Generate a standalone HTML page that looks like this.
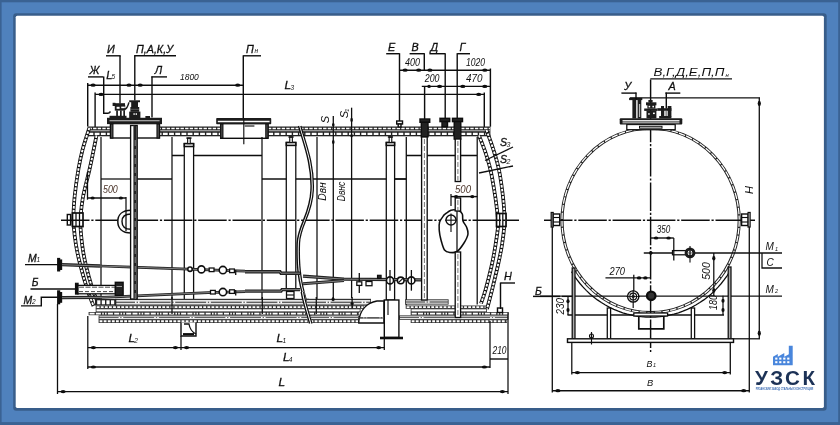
<!DOCTYPE html>
<html lang="ru">
<head>
<meta charset="utf-8">
<title>Резервуар горизонтальный двустенный - чертёж</title>
<style>
html,body{margin:0;padding:0;}
body{width:840px;height:425px;overflow:hidden;background:#4f81bd;position:relative;font-family:"Liberation Sans",sans-serif;}
svg{position:absolute;left:0;top:0;}
svg text{font-family:"Liberation Sans",sans-serif;}
</style>
</head>
<body>
<svg width="840" height="425" viewBox="0 0 840 425" stroke-linecap="butt">
<rect x="0" y="0" width="840" height="425" fill="#3a6293"/>
<rect x="1.6" y="2.3" width="836.6" height="419.8" fill="#4f81bd"/>
<rect x="13.2" y="13.2" width="813.5" height="397.5" rx="3" fill="#385d8a"/>
<rect x="15.7" y="15.7" width="808.2" height="392.2" rx="1.6" fill="#fff"/>
<defs><filter id="soft" x="0" y="0" width="840" height="425" filterUnits="userSpaceOnUse"><feGaussianBlur stdDeviation="0.38"/></filter></defs>
<g filter="url(#soft)">
<text x="107" y="52.6" font-size="10.8" text-anchor="start" fill="#111" font-weight="normal" style="font-style:italic;"  stroke="#111" stroke-width="0.3">И</text>
<line x1="106" y1="55.8" x2="120.7" y2="55.8" stroke="#111" stroke-width="1.42" />
<line x1="120" y1="55.8" x2="120" y2="103.5" stroke="#111" stroke-width="1.42" />
<text x="136" y="52.6" font-size="10.8" text-anchor="start" fill="#111" font-weight="normal" style="font-style:italic;"  textLength="37" lengthAdjust="spacingAndGlyphs" stroke="#111" stroke-width="0.3">П,А,К,У</text>
<line x1="134.3" y1="55.8" x2="176" y2="55.8" stroke="#111" stroke-width="1.42" />
<line x1="134.8" y1="55.3" x2="134.8" y2="100.5" stroke="#111" stroke-width="1.42" />
<text x="246" y="52.6" font-size="10.8" text-anchor="start" fill="#111" font-weight="normal" style="font-style:italic;"  stroke="#111" stroke-width="0.3">П</text>
<text x="254.6" y="52.8" font-size="6.5" text-anchor="start" fill="#111" font-weight="normal" style="font-style:italic;" >н</text>
<line x1="243.3" y1="55.8" x2="261" y2="55.8" stroke="#111" stroke-width="1.42" />
<line x1="243.3" y1="55.3" x2="243.3" y2="118" stroke="#111" stroke-width="1.42" />
<text x="89.5" y="74" font-size="10.8" text-anchor="start" fill="#111" font-weight="normal" style="font-style:italic;"  stroke="#111" stroke-width="0.3">Ж</text>
<line x1="88" y1="76.9" x2="103.3" y2="76.9" stroke="#111" stroke-width="1.42" />
<path d="M103.7 76.4 V113.3 H108.8" stroke="#111" stroke-width="1.42" fill="none" />
<text x="106.3" y="78.6" font-size="11.2" text-anchor="start" fill="#111" font-weight="normal" style="font-style:italic;"  stroke="#111" stroke-width="0.3">L</text>
<text x="111.6" y="79" font-size="6.5" text-anchor="start" fill="#111" font-weight="normal" style="font-style:italic;" >5</text>
<text x="154.7" y="74" font-size="10.8" text-anchor="start" fill="#111" font-weight="normal" style="font-style:italic;"  stroke="#111" stroke-width="0.3">Л</text>
<line x1="151.3" y1="76.9" x2="167" y2="76.9" stroke="#111" stroke-width="1.42" />
<line x1="152" y1="76.4" x2="152" y2="117.5" stroke="#111" stroke-width="1.42" />
<text x="180" y="80.3" font-size="9.3" text-anchor="start" fill="#111" font-weight="normal" style="font-style:italic;"  textLength="18.8" lengthAdjust="spacingAndGlyphs">1800</text>
<line x1="87.5" y1="85.2" x2="243.3" y2="85.2" stroke="#111" stroke-width="1.42" />
<line x1="87.7" y1="83" x2="87.7" y2="126.5" stroke="#111" stroke-width="1.42" />
<ellipse cx="93.1" cy="85.2" rx="2.6" ry="1.6" fill="#111"/>
<ellipse cx="129" cy="85.2" rx="2.6" ry="1.6" fill="#111"/>
<ellipse cx="140.2" cy="85.2" rx="2.6" ry="1.6" fill="#111"/>
<ellipse cx="237.7" cy="85.2" rx="2.6" ry="1.6" fill="#111"/>
<line x1="95.1" y1="94.4" x2="484.3" y2="94.4" stroke="#111" stroke-width="1.42" />
<line x1="95.1" y1="92.5" x2="95.1" y2="127" stroke="#111" stroke-width="1.42" />
<line x1="484.3" y1="92.5" x2="484.3" y2="131" stroke="#111" stroke-width="1.42" />
<ellipse cx="101.1" cy="94.4" rx="2.6" ry="1.6" fill="#111"/>
<ellipse cx="478.7" cy="94.4" rx="2.6" ry="1.6" fill="#111"/>
<text x="284.5" y="89.3" font-size="11.8" text-anchor="start" fill="#111" font-weight="normal" style="font-style:italic;"  stroke="#111" stroke-width="0.3">L</text>
<text x="290.5" y="90" font-size="6.5" text-anchor="start" fill="#111" font-weight="normal" style="font-style:italic;" >3</text>
<text x="388" y="50.6" font-size="10.8" text-anchor="start" fill="#111" font-weight="normal" style="font-style:italic;"  stroke="#111" stroke-width="0.3">Е</text>
<line x1="386.2" y1="53.7" x2="399.5" y2="53.7" stroke="#111" stroke-width="1.42" />
<line x1="399.5" y1="53.2" x2="399.5" y2="121" stroke="#111" stroke-width="1.42" />
<text x="411.5" y="50.6" font-size="10.8" text-anchor="start" fill="#111" font-weight="normal" style="font-style:italic;"  stroke="#111" stroke-width="0.3">В</text>
<line x1="409.6" y1="53.7" x2="424.3" y2="53.7" stroke="#111" stroke-width="1.42" />
<line x1="424.3" y1="53.2" x2="424.3" y2="70.2" stroke="#111" stroke-width="1.42" />
<line x1="424.6" y1="86.4" x2="424.6" y2="119" stroke="#111" stroke-width="1.42" />
<text x="430.6" y="50.6" font-size="10.8" text-anchor="start" fill="#111" font-weight="normal" style="font-style:italic;"  stroke="#111" stroke-width="0.3">Д</text>
<line x1="429.4" y1="53.7" x2="445.2" y2="53.7" stroke="#111" stroke-width="1.42" />
<line x1="445.2" y1="53.2" x2="445.2" y2="118.5" stroke="#111" stroke-width="1.42" />
<text x="459.5" y="50.6" font-size="10.8" text-anchor="start" fill="#111" font-weight="normal" style="font-style:italic;"  stroke="#111" stroke-width="0.3">Г</text>
<line x1="457.2" y1="53.7" x2="470" y2="53.7" stroke="#111" stroke-width="1.42" />
<line x1="457.2" y1="53.2" x2="457.2" y2="118.5" stroke="#111" stroke-width="1.42" />
<text x="405" y="66.4" font-size="10" text-anchor="start" fill="#111" font-weight="normal" style="font-style:italic;"  textLength="15" lengthAdjust="spacingAndGlyphs">400</text>
<text x="466" y="66.4" font-size="10" text-anchor="start" fill="#111" font-weight="normal" style="font-style:italic;"  textLength="19" lengthAdjust="spacingAndGlyphs">1020</text>
<text x="424.8" y="82.2" font-size="10" text-anchor="start" fill="#111" font-weight="normal" style="font-style:italic;"  textLength="14.7" lengthAdjust="spacingAndGlyphs">200</text>
<text x="466" y="82.2" font-size="10" text-anchor="start" fill="#111" font-weight="normal" style="font-style:italic;"  textLength="16.4" lengthAdjust="spacingAndGlyphs">470</text>
<line x1="399.5" y1="70.2" x2="490.4" y2="70.2" stroke="#111" stroke-width="1.42" />
<line x1="421.8" y1="86.4" x2="490.4" y2="86.4" stroke="#111" stroke-width="1.42" />
<line x1="490.4" y1="68.5" x2="490.4" y2="126.7" stroke="#111" stroke-width="1.42" />
<ellipse cx="405.1" cy="70.2" rx="2.6" ry="1.6" fill="#111"/>
<ellipse cx="418.7" cy="70.2" rx="2.6" ry="1.6" fill="#111"/>
<ellipse cx="429.9" cy="70.2" rx="2.6" ry="1.6" fill="#111"/>
<ellipse cx="484.8" cy="70.2" rx="2.6" ry="1.6" fill="#111"/>
<ellipse cx="429.05" cy="86.4" rx="1.75" ry="1.6" fill="#111"/>
<ellipse cx="439.6" cy="86.4" rx="2.6" ry="1.6" fill="#111"/>
<ellipse cx="462.8" cy="86.4" rx="2.6" ry="1.6" fill="#111"/>
<ellipse cx="484.8" cy="86.4" rx="2.6" ry="1.6" fill="#111"/>
<rect x="87.7" y="126.5" width="402.7" height="9.8" fill="#222"/>
<line x1="88.5" y1="128.6" x2="489.9" y2="128.6" stroke="#fff" stroke-width="1.5" stroke-dasharray="3.4 1.2"/>
<line x1="88.5" y1="130.75" x2="489.9" y2="130.75" stroke="#d8d8d8" stroke-width="0.9" />
<line x1="88.5" y1="133.9" x2="489.9" y2="133.9" stroke="#fff" stroke-width="2.3" stroke-dasharray="4.8 1.4"/>
<path d="M89.3 128 C88.17 131.67 84.33 143 82.5 150 C80.67 157 79.58 162.5 78.3 170 C77.02 177.5 75.62 187.5 74.8 195 C73.98 202.5 73.62 210.17 73.4 215 C73.18 219.83 73.07 219 73.5 224 C73.93 229 74.87 238.17 76 245 C77.13 251.83 78.38 257.5 80.3 265 C82.22 272.5 85.3 283.17 87.5 290 C89.7 296.83 92.5 303.33 93.5 306" stroke="#111" stroke-width="3.7" fill="none" />
<path d="M89.3 128 C88.17 131.67 84.33 143 82.5 150 C80.67 157 79.58 162.5 78.3 170 C77.02 177.5 75.62 187.5 74.8 195 C73.98 202.5 73.62 210.17 73.4 215 C73.18 219.83 73.07 219 73.5 224 C73.93 229 74.87 238.17 76 245 C77.13 251.83 78.38 257.5 80.3 265 C82.22 272.5 85.3 283.17 87.5 290 C89.7 296.83 92.5 303.33 93.5 306" stroke="#fff" stroke-width="1.9" fill="none" stroke-dasharray="2.5 1.3"/>
<path d="M96.5 135.5 C95.95 138.25 94.38 146.25 93.2 152 C92.02 157.75 91.07 162.67 89.4 170 C87.73 177.33 84.67 188.33 83.2 196 C81.73 203.67 81.08 211.33 80.6 216 C80.12 220.67 80.03 219.17 80.3 224 C80.57 228.83 81.28 238.17 82.2 245 C83.12 251.83 84.08 257.67 85.8 265 C87.52 272.33 90.47 282.67 92.5 289 C94.53 295.33 97.08 300.67 98 303" stroke="#111" stroke-width="3.7" fill="none" />
<path d="M96.5 135.5 C95.95 138.25 94.38 146.25 93.2 152 C92.02 157.75 91.07 162.67 89.4 170 C87.73 177.33 84.67 188.33 83.2 196 C81.73 203.67 81.08 211.33 80.6 216 C80.12 220.67 80.03 219.17 80.3 224 C80.57 228.83 81.28 238.17 82.2 245 C83.12 251.83 84.08 257.67 85.8 265 C87.52 272.33 90.47 282.67 92.5 289 C94.53 295.33 97.08 300.67 98 303" stroke="#fff" stroke-width="1.9" fill="none" stroke-dasharray="2.5 1.3"/>
<path d="M486.5 130 C487.67 133.33 491.42 143.33 493.5 150 C495.58 156.67 497.45 162.5 499 170 C500.55 177.5 501.88 187.5 502.8 195 C503.72 202.5 504.22 210.17 504.5 215 C504.78 219.83 504.92 219 504.5 224 C504.08 229 503.08 238.17 502 245 C500.92 251.83 499.67 257.5 498 265 C496.33 272.5 493.83 282.67 492 290 C490.17 297.33 487.83 305.83 487 309" stroke="#111" stroke-width="3.7" fill="none" />
<path d="M486.5 130 C487.67 133.33 491.42 143.33 493.5 150 C495.58 156.67 497.45 162.5 499 170 C500.55 177.5 501.88 187.5 502.8 195 C503.72 202.5 504.22 210.17 504.5 215 C504.78 219.83 504.92 219 504.5 224 C504.08 229 503.08 238.17 502 245 C500.92 251.83 499.67 257.5 498 265 C496.33 272.5 493.83 282.67 492 290 C490.17 297.33 487.83 305.83 487 309" stroke="#fff" stroke-width="1.9" fill="none" stroke-dasharray="2.5 1.3"/>
<path d="M479 135.5 C480.05 138.25 483.38 146.25 485.3 152 C487.22 157.75 488.88 162.83 490.5 170 C492.12 177.17 493.82 187.5 495 195 C496.18 202.5 497.05 210.17 497.6 215 C498.15 219.83 498.65 219 498.3 224 C497.95 229 496.58 238.17 495.5 245 C494.42 251.83 493.47 257.5 491.8 265 C490.13 272.5 487.3 283.58 485.5 290 C483.7 296.42 481.75 301.25 481 303.5" stroke="#111" stroke-width="3.7" fill="none" />
<path d="M479 135.5 C480.05 138.25 483.38 146.25 485.3 152 C487.22 157.75 488.88 162.83 490.5 170 C492.12 177.17 493.82 187.5 495 195 C496.18 202.5 497.05 210.17 497.6 215 C498.15 219.83 498.65 219 498.3 224 C497.95 229 496.58 238.17 495.5 245 C494.42 251.83 493.47 257.5 491.8 265 C490.13 272.5 487.3 283.58 485.5 290 C483.7 296.42 481.75 301.25 481 303.5" stroke="#fff" stroke-width="1.9" fill="none" stroke-dasharray="2.5 1.3"/>
<rect x="67.3" y="214.5" width="3.3" height="10.5" stroke="#111" stroke-width="1.42" fill="#fff" />
<rect x="72.5" y="213" width="10.5" height="13.5" stroke="#111" stroke-width="1.7" fill="#fff" />
<line x1="76" y1="213" x2="76" y2="226.5" stroke="#111" stroke-width="1.28" />
<line x1="79.5" y1="213" x2="79.5" y2="226.5" stroke="#111" stroke-width="1.28" />
<rect x="496.5" y="213.5" width="9.5" height="13" stroke="#111" stroke-width="1.7" fill="#fff" />
<line x1="499.7" y1="213.5" x2="499.7" y2="226.5" stroke="#111" stroke-width="1.28" />
<line x1="502.8" y1="213.5" x2="502.8" y2="226.5" stroke="#111" stroke-width="1.28" />
<rect x="110.5" y="123.5" width="49" height="14.5" stroke="#111" stroke-width="1.42" fill="#fff" />
<rect x="107" y="117.8" width="55" height="6.3" fill="#1a1a1a"/>
<line x1="109.5" y1="120.7" x2="159.6" y2="120.7" stroke="#ccc" stroke-width="1.1" />
<rect x="110.5" y="124" width="2.4" height="14" stroke="#111" stroke-width="1.14" fill="#555" />
<rect x="157" y="124" width="2.4" height="14" stroke="#111" stroke-width="1.14" fill="#555" />
<rect x="113" y="103.2" width="12" height="2.2" fill="#1a1a1a"/>
<rect x="112.6" y="102.8" width="2.8" height="3.2" fill="#1a1a1a"/>
<rect x="114.8" y="105" width="10.4" height="5.6" fill="#1a1a1a"/>
<rect x="116.6" y="106.8" width="3" height="2" fill="#fff"/>
<rect x="121.2" y="106.6" width="3.6" height="1.6" fill="#fff"/>
<path d="M124.5 109.5 C127 108.5 128.2 105.5 128.9 102.4" stroke="#1a1a1a" stroke-width="1.5" fill="none" />
<rect x="116.2" y="110.4" width="1.7" height="7.6" fill="#1a1a1a"/>
<rect x="120" y="110.4" width="1.7" height="7.6" fill="#1a1a1a"/>
<rect x="123.3" y="110.4" width="1.7" height="7.6" fill="#1a1a1a"/>
<rect x="109.5" y="115.8" width="17" height="2.2" fill="#1a1a1a"/>
<path d="M108.8 113.3 L110.5 111.5" stroke="#1a1a1a" stroke-width="1.6" fill="none" />
<rect x="129.2" y="100.3" width="10.8" height="1.9" fill="#1a1a1a"/>
<rect x="131.2" y="102" width="6.8" height="5.2" fill="#1a1a1a"/>
<rect x="130.4" y="107" width="8.8" height="4.8" fill="#1a1a1a"/>
<rect x="129.2" y="111.6" width="11.2" height="6.4" fill="#1a1a1a"/>
<rect x="133.4" y="113.3" width="1.4" height="1.5" fill="#fff"/>
<rect x="135.6" y="113.3" width="1.4" height="1.5" fill="#fff"/>
<line x1="130.6" y1="109.3" x2="139" y2="109.3" stroke="#999" stroke-width="0.5" />
<rect x="145.4" y="116" width="4.6" height="2" fill="#1a1a1a"/>
<rect x="220.7" y="123.5" width="47.3" height="14.8" stroke="#111" stroke-width="1.42" fill="#fff" />
<rect x="216.2" y="118" width="55" height="6.2" rx="0.8" fill="#1a1a1a"/>
<line x1="217.8" y1="121.4" x2="269.6" y2="121.4" stroke="#fff" stroke-width="1.5" />
<line x1="244.7" y1="126" x2="254.4" y2="126" stroke="#111" stroke-width="1.14" />
<rect x="220.7" y="124" width="2.2" height="14" stroke="#111" stroke-width="1.14" fill="#555" />
<rect x="265.8" y="124" width="2.2" height="14" stroke="#111" stroke-width="1.14" fill="#555" />
<line x1="243.8" y1="118" x2="243.8" y2="144.2" stroke="#111" stroke-width="1.14" />
<rect x="396.7" y="121" width="5.8" height="3" stroke="#111" stroke-width="1.42" fill="#fff" />
<rect x="398.2" y="124" width="2.8" height="3" stroke="#111" stroke-width="1.42" fill="#fff" />
<rect x="420" y="119" width="9.7" height="3.3" stroke="#111" stroke-width="1.42" fill="#222" />
<rect x="421.3" y="122.3" width="6.7" height="14.5" stroke="#111" stroke-width="1.42" fill="#222" />
<rect x="440" y="118.3" width="9.7" height="3.3" stroke="#111" stroke-width="1.42" fill="#222" />
<rect x="442" y="121.6" width="5.5" height="5.2" stroke="#111" stroke-width="1.42" fill="#222" />
<rect x="452.5" y="118.3" width="10" height="3.3" stroke="#111" stroke-width="1.42" fill="#222" />
<rect x="454.2" y="121.6" width="6.6" height="17.5" stroke="#111" stroke-width="1.42" fill="#222" />
<line x1="333.3" y1="116" x2="333.3" y2="298" stroke="#111" stroke-width="1.28" />
<line x1="351.6" y1="107.7" x2="351.6" y2="298" stroke="#111" stroke-width="1.28" />
<ellipse cx="333.3" cy="124.75" rx="1.3" ry="1.75" fill="#111"/>
<ellipse cx="333.3" cy="142.1" rx="1.3" ry="2.1" fill="#111"/>
<ellipse cx="351.6" cy="119.9" rx="1.3" ry="2.1" fill="#111"/>
<ellipse cx="351.6" cy="135.75" rx="1.3" ry="1.75" fill="#111"/>
<text transform="translate(329 119.5) rotate(-90)" font-size="11" text-anchor="middle" fill="#111" style="font-style:italic">S</text>
<text transform="translate(347.6 114.5) rotate(-90)" font-size="11" text-anchor="middle" fill="#111" style="font-style:italic">S</text>
<text transform="translate(349 110.3) rotate(-90)" font-size="5.5" text-anchor="middle" fill="#111" style="font-style:italic">1</text>
<text transform="translate(325.8 191.5) rotate(-90)" font-size="10" text-anchor="middle" fill="#111" style="font-style:italic" textLength="18.5" lengthAdjust="spacingAndGlyphs">Dвн</text>
<text transform="translate(344.8 191.5) rotate(-90)" font-size="10" text-anchor="middle" fill="#111" style="font-style:italic" textLength="19.5" lengthAdjust="spacingAndGlyphs">Dвнс</text>
<line x1="101" y1="137" x2="101" y2="302" stroke="#111" stroke-width="1.28" />
<line x1="172" y1="137" x2="172" y2="300" stroke="#111" stroke-width="1.28" />
<line x1="101" y1="179" x2="132" y2="179" stroke="#111" stroke-width="1.28" />
<line x1="137" y1="179" x2="172" y2="179" stroke="#111" stroke-width="1.28" />
<line x1="172" y1="155.5" x2="262" y2="155.5" stroke="#111" stroke-width="1.28" />
<line x1="262" y1="137" x2="262" y2="300" stroke="#111" stroke-width="1.28" />
<line x1="262" y1="179" x2="406" y2="179" stroke="#111" stroke-width="1.28" />
<line x1="317" y1="137" x2="317" y2="300" stroke="#111" stroke-width="1.28" />
<line x1="406.3" y1="137" x2="406.3" y2="305.5" stroke="#111" stroke-width="1.28" />
<line x1="477.2" y1="137" x2="477.2" y2="304.5" stroke="#111" stroke-width="1.28" />
<line x1="406.3" y1="155.5" x2="477" y2="155.5" stroke="#111" stroke-width="1.28" />
<line x1="386" y1="179" x2="406.3" y2="179" stroke="#111" stroke-width="1.28" />
<rect x="184.3" y="143.6" width="9.3" height="156.4" stroke="#111" stroke-width="1.28" fill="#fff" />
<rect x="184.3" y="143.6" width="9.3" height="2.9" stroke="#111" stroke-width="1.56" fill="#fff" />
<rect x="187.65" y="138.1" width="2.6" height="5.5" stroke="#111" stroke-width="1.14" fill="#fff" />
<line x1="186.35" y1="138.1" x2="191.55" y2="138.1" stroke="#111" stroke-width="1.42" />
<rect x="286.3" y="142.5" width="9.5" height="147.5" stroke="#111" stroke-width="1.28" fill="#fff" />
<rect x="286.3" y="142.5" width="9.5" height="2.9" stroke="#111" stroke-width="1.56" fill="#fff" />
<rect x="289.75" y="137" width="2.6" height="5.5" stroke="#111" stroke-width="1.14" fill="#fff" />
<line x1="288.45" y1="137" x2="293.65" y2="137" stroke="#111" stroke-width="1.42" />
<rect x="386.3" y="142.5" width="8.3" height="157.5" stroke="#111" stroke-width="1.28" fill="#fff" />
<rect x="386.3" y="142.5" width="8.3" height="2.9" stroke="#111" stroke-width="1.56" fill="#fff" />
<rect x="389.15" y="137" width="2.6" height="5.5" stroke="#111" stroke-width="1.14" fill="#fff" />
<line x1="387.85" y1="137" x2="393.05" y2="137" stroke="#111" stroke-width="1.42" />
<line x1="61" y1="220.2" x2="519" y2="220.2" stroke="#111" stroke-width="1.42" stroke-dasharray="28.5 1.8 2.2 1.8"/>
<path d="M299.65 126 C305.15 145 313.15 165 312.15 190 C311.15 215 299.15 225 298.35 243 C297.95 255 298.15 265 299.65 275 C301.15 290 307.15 305 311.15 322" stroke="#fff" stroke-width="2.4" fill="none" />
<path d="M298.50 126 C304.00 145 312.00 165 311.00 190 C310.00 215 298.00 225 297.20 243 C296.80 255 297.00 265 298.50 275 C300.00 290 306.00 305 310.00 322" stroke="#111" stroke-width="1.42" fill="none" />
<path d="M300.80 126 C306.30 145 314.30 165 313.30 190 C312.30 215 300.30 225 299.50 243 C299.10 255 299.30 265 300.80 275 C302.30 290 308.30 305 312.30 322" stroke="#111" stroke-width="1.28" fill="none" />
<text x="103" y="193.4" font-size="10" text-anchor="start" fill="#4a3328" font-weight="normal" style="font-style:italic;"  textLength="14.8" lengthAdjust="spacingAndGlyphs">500</text>
<line x1="87.5" y1="172" x2="87.5" y2="199.7" stroke="#111" stroke-width="1.28" />
<line x1="87.5" y1="198" x2="126" y2="198" stroke="#111" stroke-width="1.42" />
<ellipse cx="92.6" cy="198" rx="2.1" ry="1.6" fill="#111"/>
<ellipse cx="120.9" cy="198" rx="2.1" ry="1.6" fill="#111"/>
<path d="M131 210.3 C122 210.3 117.8 215 117.8 221.5 C117.8 228 122 233 131 233" stroke="#111" stroke-width="1.56" fill="#fff" />
<path d="M131 214 C125 214 122 217 122 221.5 C122 226 125 229.3 131 229.3" stroke="#111" stroke-width="1.42" fill="none" />
<line x1="126" y1="197" x2="126" y2="231" stroke="#111" stroke-width="1.28" />
<text x="455" y="192.6" font-size="10" text-anchor="start" fill="#4a3328" font-weight="normal" style="font-style:italic;"  textLength="16" lengthAdjust="spacingAndGlyphs">500</text>
<line x1="451" y1="196.6" x2="477.4" y2="196.6" stroke="#111" stroke-width="1.42" />
<ellipse cx="456.1" cy="196.6" rx="2.1" ry="1.6" fill="#111"/>
<ellipse cx="472.3" cy="196.6" rx="2.1" ry="1.6" fill="#111"/>
<line x1="451" y1="194" x2="451" y2="206" stroke="#111" stroke-width="1.28" />
<path d="M444 215 C445.17 214.2 448.58 210.93 451 210.2 C453.42 209.47 456.62 209.97 458.5 210.6 C460.38 211.23 461.55 212.27 462.3 214 C463.05 215.73 462.3 218.83 463 221 C463.7 223.17 465.67 224.83 466.5 227 C467.33 229.17 468.42 231.33 468 234 C467.58 236.67 465.83 240.08 464 243 C462.17 245.92 459.33 249.92 457 251.5 C454.67 253.08 452.08 252.75 450 252.5 C447.92 252.25 446 252.08 444.5 250 C443 247.92 441.88 243.33 441 240 C440.12 236.67 439.43 233 439.2 230 C438.97 227 438.8 224.5 439.6 222 C440.4 219.5 443.27 216.17 444 215 Z" stroke="#111" stroke-width="1.56" fill="#fff" />
<circle cx="451" cy="220" r="5" stroke="#111" stroke-width="1.42" fill="none"/>
<line x1="451" y1="213.5" x2="451" y2="232" stroke="#111" stroke-width="1.14" />
<line x1="445" y1="220.2" x2="457" y2="220.2" stroke="#111" stroke-width="1.14" />
<line x1="457" y1="211" x2="457" y2="252" stroke="#111" stroke-width="1.28" />
<line x1="485" y1="160.5" x2="513" y2="147" stroke="#111" stroke-width="1.28" />
<line x1="479" y1="173" x2="513" y2="166" stroke="#111" stroke-width="1.28" />
<text x="500" y="146.2" font-size="10.5" text-anchor="start" fill="#111" font-weight="normal" style="font-style:italic;"  stroke="#111" stroke-width="0.3">S</text>
<text x="506.5" y="147.3" font-size="7" text-anchor="start" fill="#111" font-weight="normal" style="font-style:italic;" >3</text>
<text x="500" y="162.5" font-size="10.5" text-anchor="start" fill="#111" font-weight="normal" style="font-style:italic;"  stroke="#111" stroke-width="0.3">S</text>
<text x="506.5" y="163.6" font-size="7" text-anchor="start" fill="#111" font-weight="normal" style="font-style:italic;" >2</text>
<text x="28" y="261.6" font-size="10.4" text-anchor="start" fill="#111" font-weight="normal" style="font-style:italic;"  stroke="#111" stroke-width="0.3">М</text>
<text x="36.6" y="261.9" font-size="6.5" text-anchor="start" fill="#111" font-weight="normal" style="font-style:italic;" >1</text>
<line x1="25" y1="264.6" x2="57.8" y2="264.6" stroke="#111" stroke-width="1.42" />
<rect x="57.8" y="258.6" width="1.7" height="12.2" stroke="#111" stroke-width="1.42" fill="#111" />
<rect x="60" y="260" width="1.6" height="9.4" stroke="#111" stroke-width="1.14" fill="#111" />
<text x="31.8" y="286.4" font-size="10.4" text-anchor="start" fill="#111" font-weight="normal" style="font-style:italic;"  stroke="#111" stroke-width="0.3">Б</text>
<line x1="30.5" y1="289" x2="76" y2="289" stroke="#111" stroke-width="1.42" />
<rect x="75.5" y="283.3" width="2.6" height="10.8" stroke="#111" stroke-width="1.14" fill="#111" />
<text x="23.4" y="303.8" font-size="10.4" text-anchor="start" fill="#111" font-weight="normal" style="font-style:italic;"  stroke="#111" stroke-width="0.3">М</text>
<text x="32" y="304.2" font-size="6.5" text-anchor="start" fill="#111" font-weight="normal" style="font-style:italic;" >2</text>
<path d="M21 305.9 H41.3 V297.2 H57.8" stroke="#111" stroke-width="1.42" fill="none" />
<rect x="57.8" y="291" width="1.7" height="12.6" stroke="#111" stroke-width="1.42" fill="#111" />
<rect x="60" y="292.6" width="1.6" height="9.6" stroke="#111" stroke-width="1.14" fill="#111" />
<path d="M62 264.7 L100 266" stroke="#222" stroke-width="3.3" fill="none" />
<path d="M62 264.7 L100 266" stroke="#aaa" stroke-width="0.7" fill="none" />
<path d="M100 266 L132 267.1 L245 271.2" stroke="#222" stroke-width="2.7" fill="none" />
<path d="M100 266 L132 267.1 L245 271.2" stroke="#aaa" stroke-width="0.7" fill="none" />
<path d="M245 271.8 L280 271.8 L281 273.2 L300 273.2" stroke="#222" stroke-width="3.4" fill="none" />
<path d="M245 271.8 L280 271.8 L281 273.2 L300 273.2" stroke="#aaa" stroke-width="0.7" fill="none" />
<path d="M62 297.7 L100 297.4" stroke="#222" stroke-width="3.3" fill="none" />
<path d="M62 297.7 L100 297.4" stroke="#aaa" stroke-width="0.7" fill="none" />
<path d="M100 297.4 L115 296.8 L208 292.6 L245 291.6" stroke="#222" stroke-width="2.7" fill="none" />
<path d="M100 297.4 L115 296.8 L208 292.6 L245 291.6" stroke="#aaa" stroke-width="0.7" fill="none" />
<path d="M245 291.1 L281 291.1 L282 289.6 L300 289.6" stroke="#222" stroke-width="3.4" fill="none" />
<path d="M245 291.1 L281 291.1 L282 289.6 L300 289.6" stroke="#aaa" stroke-width="0.7" fill="none" />
<path d="M303 276.2 L344 279.2 L421.4 279.8" stroke="#222" stroke-width="3.2" fill="none" />
<path d="M303 276.2 L344 279.2 L421.4 279.8" stroke="#aaa" stroke-width="0.7" fill="none" />
<path d="M303 283.8 L344 280.6" stroke="#222" stroke-width="3" fill="none" />
<path d="M303 283.8 L344 280.6" stroke="#aaa" stroke-width="0.7" fill="none" />
<circle cx="190" cy="269.2" r="2.2" stroke="#111" stroke-width="1.56" fill="#fff"/>
<circle cx="201.4" cy="269.4" r="3.5" stroke="#111" stroke-width="1.56" fill="#fff"/>
<circle cx="222.9" cy="270.1" r="3.7" stroke="#111" stroke-width="1.56" fill="#fff"/>
<circle cx="222.9" cy="292.1" r="3.7" stroke="#111" stroke-width="1.56" fill="#fff"/>
<rect x="209.2" y="268" width="4.8" height="3.6" stroke="#111" stroke-width="1.28" fill="#fff" />
<rect x="229.6" y="269" width="4.8" height="3.6" stroke="#111" stroke-width="1.28" fill="#fff" />
<rect x="210.5" y="290.4" width="4.8" height="3.6" stroke="#111" stroke-width="1.28" fill="#fff" />
<rect x="229.6" y="289.8" width="4.8" height="3.6" stroke="#111" stroke-width="1.28" fill="#fff" />
<line x1="235.7" y1="270" x2="235.7" y2="275" stroke="#111" stroke-width="1.28" />
<line x1="235.7" y1="290" x2="235.7" y2="295.5" stroke="#111" stroke-width="1.28" />
<rect x="286.5" y="291.5" width="7.5" height="7" stroke="#111" stroke-width="1.28" fill="#fff" />
<line x1="286.5" y1="295" x2="294" y2="295" stroke="#111" stroke-width="1.14" />
<circle cx="390" cy="280.4" r="3.5" stroke="#111" stroke-width="1.56" fill="#fff"/>
<line x1="390" y1="270" x2="390" y2="290.7" stroke="#111" stroke-width="1.28" />
<circle cx="411.4" cy="280.4" r="3.5" stroke="#111" stroke-width="1.56" fill="#fff"/>
<line x1="411.4" y1="270" x2="411.4" y2="290.7" stroke="#111" stroke-width="1.28" />
<circle cx="400.7" cy="280.4" r="3.3" stroke="#111" stroke-width="1.56" fill="#fff"/>
<line x1="398.5" y1="282.5" x2="403" y2="278.3" stroke="#111" stroke-width="1.14" />
<line x1="359.3" y1="273" x2="359.3" y2="293" stroke="#111" stroke-width="1.28" />
<rect x="356.8" y="281.8" width="5" height="3.6" stroke="#111" stroke-width="1.28" fill="#fff" />
<rect x="366" y="281.5" width="6" height="4.2" stroke="#111" stroke-width="1.28" fill="#fff" />
<rect x="377.5" y="275.3" width="3.6" height="3.2" stroke="#111" stroke-width="1.14" fill="#222" />
<rect x="115" y="298.8" width="194" height="6.9" fill="#333"/>
<line x1="115.8" y1="300.87" x2="308.2" y2="300.87" stroke="#e6e6e6" stroke-width="1.66" />
<line x1="115.8" y1="303.63" x2="308.2" y2="303.63" stroke="#e6e6e6" stroke-width="1.66" />
<line x1="135" y1="302.25" x2="308" y2="302.25" stroke="#fff" stroke-width="2.07" stroke-dasharray="1.6 1.4 1.6 31"/>
<rect x="95.7" y="305.5" width="213.3" height="3.3" fill="#333"/>
<line x1="96.7" y1="307.15" x2="308.5" y2="307.15" stroke="#fff" stroke-width="1.9" stroke-dasharray="2.8 1.3"/>
<rect x="95.7" y="308.4" width="213.3" height="3.9" fill="#333"/>
<rect x="96.5" y="309.3" width="211.7" height="2.1" fill="#fff"/>
<rect x="88.6" y="312" width="220.4" height="3.2" fill="#333"/>
<line x1="89.6" y1="313.6" x2="308.5" y2="313.6" stroke="#fff" stroke-width="1.9" stroke-dasharray="5 1.3 5 1.3 1.6 1.2 1.6 1.3"/>
<rect x="98.6" y="315.4" width="210.4" height="4.4" fill="#333"/>
<line x1="99.4" y1="316.72" x2="308.2" y2="316.72" stroke="#e6e6e6" stroke-width="1.06" />
<line x1="99.4" y1="318.48" x2="308.2" y2="318.48" stroke="#e6e6e6" stroke-width="1.06" />
<line x1="118.6" y1="317.6" x2="308" y2="317.6" stroke="#fff" stroke-width="1.32" stroke-dasharray="1.6 1.4 1.6 31"/>
<rect x="98.6" y="319.6" width="210.4" height="3.4" fill="#333"/>
<line x1="99.6" y1="321.3" x2="308.5" y2="321.3" stroke="#fff" stroke-width="1.9" stroke-dasharray="2.8 1.3"/>
<rect x="306" y="298.8" width="65" height="6.9" fill="#333"/>
<line x1="306.8" y1="300.87" x2="370.2" y2="300.87" stroke="#e6e6e6" stroke-width="1.66" />
<line x1="306.8" y1="303.63" x2="370.2" y2="303.63" stroke="#e6e6e6" stroke-width="1.66" />
<line x1="326" y1="302.25" x2="370" y2="302.25" stroke="#fff" stroke-width="2.07" stroke-dasharray="1.6 1.4 1.6 31"/>
<rect x="307" y="305.5" width="57" height="3.3" fill="#333"/>
<line x1="308" y1="307.15" x2="363.5" y2="307.15" stroke="#fff" stroke-width="1.9" stroke-dasharray="2.8 1.3"/>
<rect x="307.5" y="308.4" width="53" height="3.9" fill="#333"/>
<rect x="308.3" y="309.3" width="51.4" height="2.1" fill="#fff"/>
<rect x="308" y="312" width="51" height="3.2" fill="#333"/>
<line x1="309" y1="313.6" x2="358.5" y2="313.6" stroke="#fff" stroke-width="1.9" stroke-dasharray="5 1.3 5 1.3 1.6 1.2 1.6 1.3"/>
<rect x="309" y="315.4" width="49.8" height="4.4" fill="#333"/>
<line x1="309.8" y1="316.72" x2="358" y2="316.72" stroke="#e6e6e6" stroke-width="1.06" />
<line x1="309.8" y1="318.48" x2="358" y2="318.48" stroke="#e6e6e6" stroke-width="1.06" />
<line x1="329" y1="317.6" x2="357.8" y2="317.6" stroke="#fff" stroke-width="1.32" stroke-dasharray="1.6 1.4 1.6 31"/>
<rect x="309.5" y="319.6" width="49.3" height="3.4" fill="#333"/>
<line x1="310.5" y1="321.3" x2="358.3" y2="321.3" stroke="#fff" stroke-width="1.9" stroke-dasharray="2.8 1.3"/>
<path d="M358.8 323 V321 C360 311 366 303 377 301 H384 V323 Z" stroke="#111" stroke-width="1.42" fill="#fff" />
<line x1="359" y1="317.9" x2="384" y2="317.9" stroke="#333" stroke-width="1.4" />
<line x1="363" y1="317.9" x2="384" y2="317.9" stroke="#fff" stroke-width="0.7" stroke-dasharray="1.5 1.3 1.5 12"/>
<rect x="399" y="315.4" width="109.3" height="4.4" fill="#333"/>
<line x1="399.8" y1="316.72" x2="507.5" y2="316.72" stroke="#e6e6e6" stroke-width="1.06" />
<line x1="399.8" y1="318.48" x2="507.5" y2="318.48" stroke="#e6e6e6" stroke-width="1.06" />
<line x1="419" y1="317.6" x2="507.3" y2="317.6" stroke="#fff" stroke-width="1.32" stroke-dasharray="1.6 1.4 1.6 31"/>
<rect x="405.7" y="305.5" width="80.3" height="3.3" fill="#333"/>
<line x1="406.7" y1="307.15" x2="485.5" y2="307.15" stroke="#fff" stroke-width="1.9" stroke-dasharray="2.8 1.3"/>
<rect x="410.7" y="308.4" width="76.3" height="3.9" fill="#333"/>
<rect x="411.5" y="309.3" width="74.7" height="2.1" fill="#fff"/>
<rect x="410.7" y="312" width="97.9" height="3.2" fill="#333"/>
<line x1="411.7" y1="313.6" x2="508.1" y2="313.6" stroke="#fff" stroke-width="1.9" stroke-dasharray="5 1.3 5 1.3 1.6 1.2 1.6 1.3"/>
<rect x="410.7" y="319.6" width="96.3" height="3.4" fill="#333"/>
<line x1="411.7" y1="321.3" x2="506.5" y2="321.3" stroke="#fff" stroke-width="1.9" stroke-dasharray="2.8 1.3"/>
<rect x="405" y="299.3" width="43.6" height="5.3" fill="#333"/>
<line x1="405.8" y1="300.89" x2="447.8" y2="300.89" stroke="#e6e6e6" stroke-width="1.27" />
<line x1="405.8" y1="303.01" x2="447.8" y2="303.01" stroke="#e6e6e6" stroke-width="1.27" />
<line x1="425" y1="301.95" x2="447.6" y2="301.95" stroke="#fff" stroke-width="1.59" stroke-dasharray="1.6 1.4 1.6 31"/>
<rect x="384.3" y="300" width="14.6" height="37.5" stroke="#111" stroke-width="1.42" fill="#fff" />
<line x1="380" y1="338" x2="403" y2="338" stroke="#111" stroke-width="2.56" />
<line x1="388" y1="300" x2="388" y2="315" stroke="#111" stroke-width="1.14" />
<path d="M181 322.5 V336 H196 V322.5" stroke="#111" stroke-width="1.42" fill="#fff" />
<path d="M184 324 h5 q1 7 7 10" stroke="#111" stroke-width="1.28" fill="none" />
<line x1="183" y1="334.2" x2="194" y2="334.2" stroke="#111" stroke-width="2.27" />
<rect x="78" y="285.4" width="37.5" height="8.4" stroke="#111" stroke-width="1.28" fill="#fff" />
<line x1="79" y1="287.2" x2="115" y2="287.2" stroke="#333" stroke-width="0.9" stroke-dasharray="5 1.5"/>
<line x1="79" y1="291.6" x2="115" y2="291.6" stroke="#333" stroke-width="0.9" stroke-dasharray="4 2"/>
<rect x="115.3" y="282.3" width="7.8" height="13" stroke="#111" stroke-width="1.42" fill="#222" />
<line x1="116.5" y1="286.5" x2="122" y2="286.5" stroke="#bbb" stroke-width="0.8" />
<rect x="95" y="299" width="21.3" height="6.5" fill="#222"/>
<rect x="97.2" y="300.3" width="3.2" height="4" fill="#fff"/>
<rect x="101.8" y="300.3" width="3.2" height="4" fill="#fff"/>
<rect x="106.4" y="300.3" width="3.2" height="4" fill="#fff"/>
<rect x="111" y="300.3" width="3.2" height="4" fill="#fff"/>
<rect x="497.5" y="308" width="5" height="4.5" stroke="#111" stroke-width="1.42" fill="#fff" />
<text x="504" y="280.3" font-size="10.8" text-anchor="start" fill="#111" font-weight="normal" style="font-style:italic;"  stroke="#111" stroke-width="0.3">Н</text>
<line x1="500.5" y1="283" x2="515" y2="283" stroke="#111" stroke-width="1.42" />
<line x1="500.5" y1="282.5" x2="500.5" y2="309" stroke="#111" stroke-width="1.42" />
<path d="M302.6 292 C303.6 300 307 311 310.8 324" stroke="#fff" stroke-width="3.6" fill="none" />
<path d="M301.3 292 C302.3 300 305.8 311 309.6 323.5" stroke="#111" stroke-width="1.42" fill="none" />
<path d="M303.7 292 C304.7 300 308.2 311 312 323.5" stroke="#111" stroke-width="1.28" fill="none" />
<line x1="333.1" y1="297" x2="333.1" y2="300.5" stroke="#111" stroke-width="1.28" />
<circle cx="333.1" cy="299.4" r="1.4" stroke="#111" stroke-width="0.57" fill="#111"/>
<line x1="352.1" y1="297" x2="352.1" y2="308.6" stroke="#111" stroke-width="1.28" />
<circle cx="352.1" cy="303.7" r="1.4" stroke="#111" stroke-width="0.57" fill="#111"/>
<line x1="316.3" y1="297" x2="316.3" y2="314" stroke="#111" stroke-width="1.28" />
<line x1="262.3" y1="297" x2="262.3" y2="314" stroke="#111" stroke-width="1.28" />
<line x1="172" y1="297" x2="172" y2="314" stroke="#111" stroke-width="1.28" />
<rect x="130.6" y="125.5" width="6.6" height="173.5" stroke="#111" stroke-width="1.35" fill="#fff" />
<line x1="133.9" y1="125.5" x2="133.9" y2="299" stroke="#444" stroke-width="0.9" />
<line x1="135.2" y1="126" x2="135.2" y2="299" stroke="#222" stroke-width="2.84" />
<line x1="135.2" y1="140" x2="135.2" y2="299" stroke="#ccc" stroke-width="0.6" stroke-dasharray="6 3"/>
<rect x="421.6" y="137" width="5.6" height="163" stroke="#111" stroke-width="1.35" fill="#fff" />
<line x1="424.4" y1="139" x2="424.4" y2="299" stroke="#666" stroke-width="0.9" stroke-dasharray="5 2"/>
<rect x="455.2" y="139" width="5.4" height="42.5" stroke="#111" stroke-width="1.35" fill="#fff" />
<line x1="457.9" y1="141" x2="457.9" y2="180.5" stroke="#666" stroke-width="0.9" stroke-dasharray="5 2"/>
<rect x="455.2" y="198" width="5.4" height="13" stroke="#111" stroke-width="1.35" fill="#fff" />
<line x1="457.9" y1="200" x2="457.9" y2="210" stroke="#666" stroke-width="0.9" stroke-dasharray="5 2"/>
<rect x="455.2" y="252" width="5.4" height="65.5" stroke="#111" stroke-width="1.35" fill="#fff" />
<line x1="457.9" y1="254" x2="457.9" y2="316.5" stroke="#666" stroke-width="0.9" stroke-dasharray="5 2"/>
<line x1="57.5" y1="304" x2="57.5" y2="394" stroke="#111" stroke-width="1.28" />
<line x1="87.8" y1="316" x2="87.8" y2="369" stroke="#111" stroke-width="1.28" />
<line x1="181" y1="336" x2="181" y2="350" stroke="#111" stroke-width="1.28" />
<line x1="384.3" y1="339" x2="384.3" y2="350" stroke="#111" stroke-width="1.28" />
<line x1="87.8" y1="347.6" x2="384.3" y2="347.6" stroke="#111" stroke-width="1.42" />
<ellipse cx="93.4" cy="347.6" rx="2.6" ry="1.6" fill="#111"/>
<ellipse cx="175.4" cy="347.6" rx="2.6" ry="1.6" fill="#111"/>
<ellipse cx="186.6" cy="347.6" rx="2.6" ry="1.6" fill="#111"/>
<ellipse cx="378.7" cy="347.6" rx="2.6" ry="1.6" fill="#111"/>
<text x="128.6" y="342" font-size="11.8" text-anchor="start" fill="#111" font-weight="normal" style="font-style:italic;"  stroke="#111" stroke-width="0.3">L</text>
<text x="134.3" y="342.6" font-size="6.5" text-anchor="start" fill="#111" font-weight="normal" style="font-style:italic;" >2</text>
<text x="276.6" y="342" font-size="11.8" text-anchor="start" fill="#111" font-weight="normal" style="font-style:italic;"  stroke="#111" stroke-width="0.3">L</text>
<text x="282.5" y="342.6" font-size="6.5" text-anchor="start" fill="#111" font-weight="normal" style="font-style:italic;" >1</text>
<line x1="87.8" y1="367" x2="490" y2="367" stroke="#111" stroke-width="1.42" />
<ellipse cx="93.4" cy="367" rx="2.6" ry="1.6" fill="#111"/>
<ellipse cx="484.4" cy="367" rx="2.6" ry="1.6" fill="#111"/>
<text x="283" y="361" font-size="11.8" text-anchor="start" fill="#111" font-weight="normal" style="font-style:italic;"  stroke="#111" stroke-width="0.3">L</text>
<text x="288.8" y="361.6" font-size="6.5" text-anchor="start" fill="#111" font-weight="normal" style="font-style:italic;" >4</text>
<line x1="57.5" y1="391.6" x2="508" y2="391.6" stroke="#111" stroke-width="1.42" />
<ellipse cx="63.1" cy="391.6" rx="2.6" ry="1.6" fill="#111"/>
<ellipse cx="502.4" cy="391.6" rx="2.6" ry="1.6" fill="#111"/>
<text x="278.6" y="386" font-size="11.8" text-anchor="start" fill="#111" font-weight="normal" style="font-style:italic;"  stroke="#111" stroke-width="0.3">L</text>
<line x1="490" y1="321" x2="490" y2="368" stroke="#111" stroke-width="1.28" />
<line x1="508" y1="312.5" x2="508" y2="394" stroke="#111" stroke-width="1.28" />
<line x1="490" y1="359" x2="508" y2="359" stroke="#111" stroke-width="1.42" />
<text x="492.5" y="353.5" font-size="10" text-anchor="start" fill="#111" font-weight="normal" style="font-style:italic;"  textLength="14" lengthAdjust="spacingAndGlyphs">210</text>
<path d="M729.64 271.7 L727.04 275.78 L724.24 279.73 L721.26 283.52 L718.09 287.16 L714.75 290.62 L711.25 293.9 L707.59 296.99 L703.79 299.89 L699.85 302.58 L695.78 305.06 L691.6 307.33 L687.32 309.37 L682.93 311.19 L678.47 312.77 L673.94 314.12 L669.34 315.22 L664.7 316.09 L660.02 316.7 L655.32 317.08 L650.6 317.2 L645.88 317.08 L641.18 316.7 L636.5 316.09 L631.86 315.22 L627.26 314.12 L622.73 312.77 L618.27 311.19 L613.88 309.37 L609.6 307.33 L605.42 305.06 L601.35 302.58 L597.41 299.89 L593.61 296.99 L589.95 293.9 L586.45 290.62 L583.11 287.16 L579.94 283.52 L576.96 279.73 L574.16 275.78 L571.56 271.7" stroke="#111" stroke-width="1.28" fill="none" />
<ellipse cx="650.6" cy="220.4" rx="88.6" ry="92.2" stroke="#222" stroke-width="3.1" fill="none" />
<ellipse cx="650.6" cy="220.4" rx="88.6" ry="92.2" stroke="#fff" stroke-width="1.25" fill="none" stroke-dasharray="6.5 1.2"/>
<line x1="544" y1="220.2" x2="755" y2="220.2" stroke="#111" stroke-width="1.42" stroke-dasharray="28.5 1.8 2.2 1.8"/>
<line x1="650.6" y1="79.5" x2="650.6" y2="354" stroke="#111" stroke-width="1.42" stroke-dasharray="28.5 1.8 2.2 1.8"/>
<rect x="551.2" y="212.5" width="2" height="14.5" stroke="#111" stroke-width="1.28" fill="#fff" />
<rect x="553.2" y="214" width="6.5" height="11.5" stroke="#111" stroke-width="1.42" fill="#fff" />
<line x1="553.2" y1="217.5" x2="559.7" y2="217.5" stroke="#111" stroke-width="1.14" />
<line x1="553.2" y1="222" x2="559.7" y2="222" stroke="#111" stroke-width="1.14" />
<rect x="741.6" y="214" width="6.5" height="11.5" stroke="#111" stroke-width="1.42" fill="#fff" />
<rect x="748.1" y="212.5" width="2" height="14.5" stroke="#111" stroke-width="1.28" fill="#fff" />
<line x1="741.6" y1="217.5" x2="748.1" y2="217.5" stroke="#111" stroke-width="1.14" />
<line x1="741.6" y1="222" x2="748.1" y2="222" stroke="#111" stroke-width="1.14" />
<rect x="626.8" y="124.5" width="48.4" height="5.2" stroke="#111" stroke-width="1.28" fill="#fff" />
<rect x="639.5" y="126.3" width="22.5" height="1.9" stroke="#111" stroke-width="0.99" fill="#ddd" />
<rect x="619.7" y="118.3" width="62.6" height="6.2" rx="1" fill="#1a1a1a"/>
<line x1="622.5" y1="120.7" x2="679.5" y2="120.7" stroke="#e4e4e4" stroke-width="1.5" />
<line x1="622.5" y1="122.8" x2="679.5" y2="122.8" stroke="#e4e4e4" stroke-width="0.9" />
<rect x="629.1" y="97.8" width="13.2" height="2.3" fill="#1a1a1a"/>
<rect x="632.4" y="100" width="3.8" height="18.5" fill="#1a1a1a"/>
<rect x="637.6" y="100" width="3.7" height="18.5" fill="#1a1a1a"/>
<rect x="638.9" y="104" width="1.3" height="13" fill="#bbb"/>
<rect x="648.4" y="100" width="4.2" height="2.5" fill="#1a1a1a"/>
<rect x="646" y="102.3" width="10.4" height="3" fill="#1a1a1a"/>
<rect x="647.4" y="105" width="8" height="3.6" fill="#1a1a1a"/>
<rect x="648.6" y="105.8" width="1.6" height="1.6" fill="#fff"/>
<rect x="652.4" y="105.8" width="1.6" height="1.6" fill="#fff"/>
<rect x="644.2" y="108.5" width="13.1" height="2.4" fill="#1a1a1a"/>
<rect x="646.5" y="110.8" width="9.9" height="7.5" fill="#1a1a1a"/>
<rect x="648.2" y="113.2" width="1.5" height="1.5" fill="#fff"/>
<rect x="653" y="112.6" width="1.8" height="1.5" fill="#fff"/>
<rect x="657.3" y="108.2" width="14.1" height="2.6" fill="#1a1a1a"/>
<rect x="661" y="106" width="3" height="10.5" fill="#1a1a1a"/>
<rect x="667.7" y="106" width="3.7" height="10.5" fill="#1a1a1a"/>
<rect x="659.2" y="116" width="12.2" height="2.4" fill="#1a1a1a"/>
<line x1="665" y1="110.8" x2="665" y2="116" stroke="#555" stroke-width="0.7" />
<line x1="666.4" y1="110.8" x2="666.4" y2="116" stroke="#555" stroke-width="0.7" />
<text x="624.3" y="90.4" font-size="10.8" text-anchor="start" fill="#111" font-weight="normal" style="font-style:italic;"  stroke="#111" stroke-width="0.3">У</text>
<line x1="621.4" y1="93.1" x2="636.4" y2="93.1" stroke="#111" stroke-width="1.42" />
<line x1="636" y1="92.6" x2="636" y2="100" stroke="#111" stroke-width="1.42" />
<text x="668.5" y="90.4" font-size="10.8" text-anchor="start" fill="#111" font-weight="normal" style="font-style:italic;"  stroke="#111" stroke-width="0.3">А</text>
<line x1="665.3" y1="93.1" x2="680.3" y2="93.1" stroke="#111" stroke-width="1.42" />
<line x1="666.3" y1="92.6" x2="666.3" y2="108.5" stroke="#111" stroke-width="1.42" />
<text x="653.5" y="76.2" font-size="10.2" text-anchor="start" fill="#111" font-weight="normal" style="font-style:italic;"  textLength="71" lengthAdjust="spacingAndGlyphs">В,Г,Д,Е,П,П</text>
<text x="725.5" y="76.6" font-size="6" text-anchor="start" fill="#111" font-weight="normal" style="font-style:italic;" >н</text>
<line x1="650.3" y1="78.9" x2="732" y2="78.9" stroke="#111" stroke-width="1.42" />
<line x1="630" y1="97.8" x2="760" y2="97.8" stroke="#111" stroke-width="1.28" />
<line x1="759.3" y1="97.8" x2="759.3" y2="338.8" stroke="#111" stroke-width="1.28" />
<ellipse cx="759.3" cy="103.4" rx="1.6" ry="2.6" fill="#111"/>
<ellipse cx="759.3" cy="333.2" rx="1.6" ry="2.6" fill="#111"/>
<text transform="translate(753.3 190) rotate(-90)" font-size="11" text-anchor="middle" fill="#111" style="font-style:italic">Н</text>
<line x1="731" y1="338.8" x2="760" y2="338.8" stroke="#111" stroke-width="1.28" />
<line x1="643.8" y1="253" x2="782" y2="253" stroke="#111" stroke-width="1.28" />
<text x="765.5" y="250.3" font-size="10" text-anchor="start" fill="#111" font-weight="normal" style="font-style:italic;" >М</text>
<text x="775" y="250.8" font-size="5.5" text-anchor="start" fill="#111" font-weight="normal" style="font-style:italic;" >1</text>
<path d="M762 253 V268 H782" stroke="#111" stroke-width="1.28" fill="none" />
<text x="766.5" y="265.5" font-size="10" text-anchor="start" fill="#111" font-weight="normal" style="font-style:italic;" >С</text>
<line x1="540" y1="296.2" x2="782" y2="296.2" stroke="#111" stroke-width="1.28" />
<text x="765.5" y="292.8" font-size="10" text-anchor="start" fill="#111" font-weight="normal" style="font-style:italic;" >М</text>
<text x="775" y="293.3" font-size="5.5" text-anchor="start" fill="#111" font-weight="normal" style="font-style:italic;" >2</text>
<rect x="672.5" y="250.6" width="13.5" height="4.2" stroke="#111" stroke-width="1.28" fill="#fff" />
<line x1="673.8" y1="238" x2="673.8" y2="260.5" stroke="#111" stroke-width="1.28" />
<circle cx="690" cy="252.9" r="3.9" stroke="#1a1a1a" stroke-width="3" fill="#fff"/>
<circle cx="690" cy="252.9" r="1.2" stroke="#333" stroke-width="0.8" fill="none"/>
<line x1="690" y1="246" x2="690" y2="262.5" stroke="#111" stroke-width="1.14" />
<circle cx="650.8" cy="252.9" r="1.5" stroke="#111" stroke-width="0.71" fill="#111"/>
<text x="656.8" y="233.2" font-size="10" text-anchor="start" fill="#111" font-weight="normal" style="font-style:italic;"  textLength="13.5" lengthAdjust="spacingAndGlyphs">350</text>
<line x1="650.8" y1="238" x2="673.8" y2="238" stroke="#111" stroke-width="1.42" />
<ellipse cx="656.05" cy="238" rx="2.25" ry="1.6" fill="#111"/>
<ellipse cx="668.55" cy="238" rx="2.25" ry="1.6" fill="#111"/>
<line x1="713.8" y1="253" x2="713.8" y2="296" stroke="#111" stroke-width="1.28" />
<ellipse cx="713.8" cy="258.25" rx="1.6" ry="2.25" fill="#111"/>
<ellipse cx="713.8" cy="290.45" rx="1.6" ry="2.25" fill="#111"/>
<text transform="translate(709.6 271) rotate(-90)" font-size="10.5" text-anchor="middle" fill="#111" style="font-style:italic" textLength="17.5" lengthAdjust="spacingAndGlyphs">500</text>
<line x1="723" y1="295.7" x2="723" y2="315" stroke="#111" stroke-width="1.28" />
<ellipse cx="723" cy="300.7" rx="1.6" ry="2" fill="#111"/>
<ellipse cx="723" cy="310" rx="1.6" ry="2" fill="#111"/>
<text transform="translate(716.6 302.5) rotate(-90)" font-size="10.3" text-anchor="middle" fill="#111" style="font-style:italic" textLength="15" lengthAdjust="spacingAndGlyphs">180</text>
<text x="609.5" y="274.5" font-size="10" text-anchor="start" fill="#111" font-weight="normal" style="font-style:italic;"  textLength="15.5" lengthAdjust="spacingAndGlyphs">270</text>
<line x1="605.5" y1="277.9" x2="651" y2="277.9" stroke="#111" stroke-width="1.28" />
<line x1="633.8" y1="274.7" x2="633.8" y2="291" stroke="#111" stroke-width="1.28" />
<ellipse cx="639.05" cy="277.9" rx="2.25" ry="1.6" fill="#111"/>
<ellipse cx="645.35" cy="277.9" rx="2.25" ry="1.6" fill="#111"/>
<circle cx="633.2" cy="296.5" r="5.6" stroke="#111" stroke-width="1.42" fill="#fff"/>
<circle cx="633.2" cy="296.5" r="3.4" stroke="#111" stroke-width="1.14" fill="none"/>
<circle cx="633.2" cy="296.5" r="1.3" stroke="#111" stroke-width="0.99" fill="none"/>
<line x1="626.5" y1="296.5" x2="640" y2="296.5" stroke="#111" stroke-width="0.85" />
<line x1="633.2" y1="290" x2="633.2" y2="308" stroke="#111" stroke-width="1.14" />
<circle cx="651.2" cy="295.8" r="4.2" stroke="#111" stroke-width="2.4" fill="#333"/>
<text x="535" y="294.5" font-size="10.4" text-anchor="start" fill="#111" font-weight="normal" style="font-style:italic;"  stroke="#111" stroke-width="0.3">Б</text>
<line x1="533" y1="296.4" x2="560" y2="296.4" stroke="#111" stroke-width="1.42" />
<line x1="562" y1="296.4" x2="573" y2="296.4" stroke="#111" stroke-width="1.28" />
<line x1="568" y1="296.3" x2="568" y2="315" stroke="#111" stroke-width="1.28" />
<ellipse cx="568" cy="301.3" rx="1.6" ry="2" fill="#111"/>
<ellipse cx="568" cy="310" rx="1.6" ry="2" fill="#111"/>
<text transform="translate(564.4 306.3) rotate(-90)" font-size="10.5" text-anchor="middle" fill="#111" style="font-style:italic" textLength="16.5" lengthAdjust="spacingAndGlyphs">230</text>
<line x1="567.5" y1="315" x2="724" y2="315" stroke="#111" stroke-width="1.28" />
<rect x="572.2" y="268" width="2.8" height="70.8" stroke="#111" stroke-width="1.28" fill="#aaa" />
<rect x="607.3" y="308" width="3.3" height="30.8" stroke="#111" stroke-width="1.28" fill="#fff" />
<rect x="691.3" y="308" width="3.3" height="30.8" stroke="#111" stroke-width="1.28" fill="#fff" />
<rect x="728.2" y="267" width="2.8" height="71.8" stroke="#111" stroke-width="1.28" fill="#aaa" />
<rect x="567.5" y="338.8" width="166" height="3.6" stroke="#111" stroke-width="1.42" fill="#fff" />
<rect x="633.8" y="313" width="33.8" height="3" stroke="#111" stroke-width="1.28" fill="#fff" />
<path d="M638.8 316 V328.8 H663.8 V316" stroke="#111" stroke-width="1.7" fill="none" />
<circle cx="591.5" cy="336" r="2" stroke="#111" stroke-width="1.14" fill="#fff"/>
<line x1="591.5" y1="332" x2="591.5" y2="344.5" stroke="#111" stroke-width="1.14" />
<line x1="571.8" y1="342.4" x2="571.8" y2="374.5" stroke="#111" stroke-width="1.28" />
<line x1="730.3" y1="342.4" x2="730.3" y2="374.5" stroke="#111" stroke-width="1.28" />
<line x1="571.8" y1="372.6" x2="730.3" y2="372.6" stroke="#111" stroke-width="1.42" />
<ellipse cx="577.4" cy="372.6" rx="2.6" ry="1.6" fill="#111"/>
<ellipse cx="724.7" cy="372.6" rx="2.6" ry="1.6" fill="#111"/>
<text x="646.5" y="366.5" font-size="8.8" text-anchor="start" fill="#111" font-weight="normal" style="font-style:italic;" >В</text>
<text x="653" y="367" font-size="5.5" text-anchor="start" fill="#111" font-weight="normal" style="font-style:italic;" >1</text>
<line x1="552.3" y1="227" x2="552.3" y2="392.5" stroke="#111" stroke-width="1.28" />
<line x1="749.3" y1="227" x2="749.3" y2="392.5" stroke="#111" stroke-width="1.28" />
<line x1="552.3" y1="390.7" x2="749.3" y2="390.7" stroke="#111" stroke-width="1.42" />
<ellipse cx="557.9" cy="390.7" rx="2.6" ry="1.6" fill="#111"/>
<ellipse cx="743.7" cy="390.7" rx="2.6" ry="1.6" fill="#111"/>
<text x="647" y="385.6" font-size="9.3" text-anchor="start" fill="#111" font-weight="normal" style="font-style:italic;" >В</text>
<path d="M773 365.2 V356.8 L777.8 354 V356.8 L784.3 353 V356.8 L788.8 354.2 V345.8 H792.7 V365.2 Z" fill="#4a86dc"/>
<rect x="775.2" y="357.6" width="2.2" height="2" fill="#fff"/>
<rect x="779.2" y="357.6" width="2.2" height="2" fill="#fff"/>
<rect x="783.2" y="357.6" width="2.2" height="2" fill="#fff"/>
<rect x="787.2" y="357.6" width="2.2" height="2" fill="#fff"/>
<rect x="775.2" y="361.2" width="2.2" height="2" fill="#fff"/>
<rect x="779.2" y="361.2" width="2.2" height="2" fill="#fff"/>
<rect x="783.2" y="361.2" width="2.2" height="2" fill="#fff"/>
<rect x="787.2" y="361.2" width="2.2" height="2" fill="#fff"/>
<text x="755" y="384.7" font-size="20.6" font-weight="bold" fill="#1b3156" textLength="60" lengthAdjust="spacing">УЗСК</text>
<text x="755.8" y="389.9" font-size="2.7" font-weight="bold" fill="#3b6cb5" textLength="57.5" lengthAdjust="spacingAndGlyphs">РЯЗАНСКИЙ ЗАВОД СТАЛЬНЫХ КОНСТРУКЦИЙ</text>
</g>
</svg>
</body>
</html>
